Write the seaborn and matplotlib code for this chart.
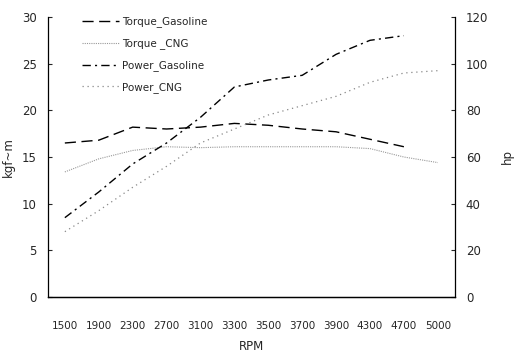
import seaborn as sns
import matplotlib.pyplot as plt
import numpy as np

rpm = ['1500', '1900', '2300', '2700', '3100', '3300', '3500', '3700', '3900', '4300', '4700', '5000']

# left axis (kgf-m)
torque_gasoline = [16.5, 16.8, 18.2, 18.0, 18.2, 18.6, 18.4, 18.0, 17.7, 16.9, 16.1]
torque_cng = [13.4, 14.8, 15.7, 16.1, 16.0, 16.1, 16.1, 16.1, 16.1, 15.9, 15.0, 14.4]

# right axis (hp)
power_gasoline = [34, 45, 57, 66, 77, 90, 93, 95, 104, 110, 112]
power_cng = [28, 37, 47, 56, 66, 72, 78, 82, 86, 92, 96, 97]

sns.set_style('white')
plt.rcParams['font.family'] = ['DejaVu Sans']

fig = plt.figure(figsize=(5.15, 3.54), dpi=100)
ax = fig.add_axes([0.093, 0.161, 0.790, 0.791])
ax2 = ax.twinx()

idx = np.arange(len(rpm))

sns.lineplot(x=idx[:len(torque_gasoline)], y=torque_gasoline, ax=ax, color='black',
             linewidth=1.0, label='Torque_Gasoline', legend=False)
ax.lines[-1].set_dashes((8, 4))
sns.lineplot(x=idx, y=torque_cng, ax=ax, color='#999999', linewidth=0.8,
             label='Torque _CNG', legend=False)
ax.lines[-1].set_dashes((1, 1))
sns.lineplot(x=idx[:len(power_gasoline)], y=power_gasoline, ax=ax2, color='black',
             linewidth=1.0, label='Power_Gasoline', legend=False)
ax2.lines[-1].set_dashes((6, 3, 1.5, 3))
sns.lineplot(x=idx, y=power_cng, ax=ax2, color='#888888', linewidth=0.9,
             label='Power_CNG', legend=False)
ax2.lines[-1].set_dashes((1, 3))

ax.set_xlim(-0.5, len(rpm) - 0.5)
ax.set_ylim(0, 30)
ax2.set_ylim(0, 120)
ax.set_yticks([0, 5, 10, 15, 20, 25, 30])
ax2.set_yticks([0, 20, 40, 60, 80, 100, 120])

# ticks on category boundaries, labels centred between them
ax.set_xticks(idx[:-1] + 0.5)
ax.set_xticklabels([])
ax.set_xticks(idx, minor=True)
ax.set_xticklabels(rpm, minor=True, fontsize=7.5)
ax.tick_params(axis='x', which='major', direction='in', length=3, width=0.8, color='black')
ax.tick_params(axis='x', which='minor', length=0, pad=17)
ax.tick_params(axis='y', direction='in', length=3, width=0.8, labelsize=8.5, pad=8)
ax2.tick_params(axis='y', direction='in', length=3, width=0.8, labelsize=8.5, pad=8)

for a in (ax, ax2):
    a.spines['top'].set_visible(False)
    for s in ('left', 'right', 'bottom'):
        a.spines[s].set_color('black')
        a.spines[s].set_linewidth(0.9)
ax2.spines['left'].set_visible(False)
ax.spines['right'].set_visible(False)

ax.set_xlabel('RPM', fontsize=8.5, labelpad=7)
ax.set_ylabel('kgf~m', fontsize=8.5, labelpad=5)
ax2.set_ylabel('hp', fontsize=8.5, labelpad=9)

h1, l1 = ax.get_legend_handles_labels()
h2, l2 = ax2.get_legend_handles_labels()
ax.legend(h1 + h2, l1 + l2, loc='upper left', bbox_to_anchor=(0.06, 1.035), frameon=False,
          fontsize=7.5, handlelength=3.6, handletextpad=0.3, labelspacing=1.05)

fig.savefig('out.png', dpi=100)
